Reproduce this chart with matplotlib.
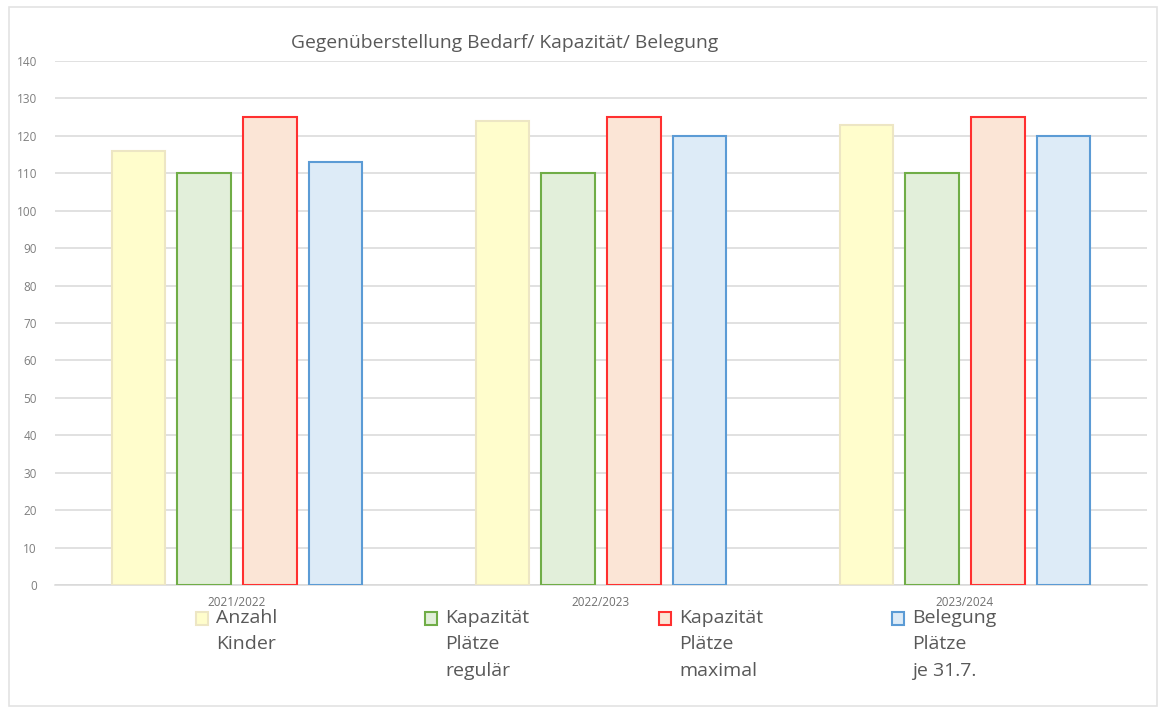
import matplotlib
matplotlib.use("Agg")
import matplotlib.pyplot as plt
import numpy as np
from matplotlib.patches import Rectangle

categories = ["2021/2022", "2022/2023", "2023/2024"]
series_labels = ["Anzahl\nKinder", "Kapazität\nPlätze\nregulär", "Kapazität\nPlätze\nmaximal", "Belegung\nPlätze\nje 31.7."]
anzahl_kinder = [116, 124, 123]
kapazitaet_regulaer = [110, 110, 110]
kapazitaet_maximal = [125, 125, 125]
belegung = [113, 120, 120]
yticks = list(range(0, 141, 10))
title = "Gegenüberstellung Bedarf/ Kapazität/ Belegung"

series = [anzahl_kinder, kapazitaet_regulaer, kapazitaet_maximal, belegung]
fills = ["#FFFDCC", "#E2EFDA", "#FBE5D6", "#DDEBF7"]
edges = ["#EDE6C4", "#70AD47", "#FF3030", "#5B9BD5"]

plt.rcParams['font.family'] = ['Open Sans', 'DejaVu Sans']
W, H = 1162, 709
fig = plt.figure(figsize=(W/100, H/100), dpi=100)
fig.patch.set_facecolor("white")

# outer chart border
fig.add_artist(Rectangle((9/W, 1 - 706/H), (1157-9)/W, (706-7)/H, transform=fig.transFigure,
                         fill=False, edgecolor="#E3E3E3", linewidth=1.2))

ax = fig.add_axes([55/W, 1 - 585/H, (1147-55)/W, (585-61)/H])
x = np.arange(len(categories))
step = 0.181
bw = 0.146
for i, (vals, fc, ec) in enumerate(zip(series, fills, edges)):
    ax.bar(x + (i - 1.5) * step, vals, width=bw, color=fc, edgecolor=ec, linewidth=1.5, zorder=3)

ax.set_xlim(-0.5, 2.5)
ax.set_ylim(0, 140)
ax.set_yticks(yticks)
ax.set_yticklabels([str(t) for t in yticks], fontsize=8.5, color="#7F7F7F")
ax.set_xticks(x)
ax.set_xticklabels(categories, fontsize=8.5, color="#707070")
ax.tick_params(axis='both', length=0)
ax.tick_params(axis='y', pad=13)
ax.tick_params(axis='x', pad=8)
ax.grid(axis='y', color="#D9D9D9", linewidth=1.1, zorder=0)
for s in ["top", "right", "left"]:
    ax.spines[s].set_visible(False)
ax.spines["bottom"].set_color("#D9D9D9")
ax.spines["bottom"].set_linewidth(1.1)

fig.text(291/W, 1 - 43/H, title, fontsize=13.9, color="#595959", va="center", ha="left")

# legend entries
leg_x = [196, 425, 659, 892]
for i, lx in enumerate(leg_x):
    fig.add_artist(Rectangle((lx/W, 1 - 625/H), 12/W, 13/H, transform=fig.transFigure,
                             facecolor=fills[i], edgecolor=edges[i], linewidth=1.5))
    fig.text((lx + 20)/W, 1 - 609/H, series_labels[i], fontsize=14, color="#595959",
             va="top", ha="left", linespacing=1.6)

fig.savefig("out.png", dpi=100)
